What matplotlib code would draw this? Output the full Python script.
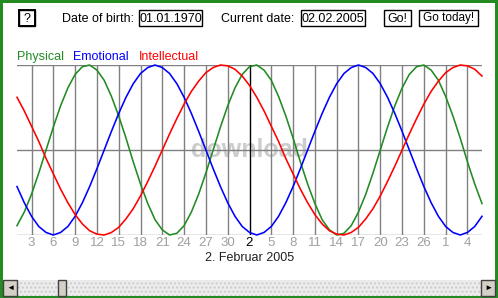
import matplotlib
matplotlib.use("Agg")
import matplotlib.pyplot as plt
from matplotlib.patches import Rectangle

plt.rcParams["font.family"] = ["Liberation Sans", "DejaVu Sans"]

W, H = 498, 298

# biorhythm values, one point per day from 1 Jan 2005 (day 0) to 6 Mar 2005 (day 64)
physical = [-0.89, -0.73, -0.52, -0.27, 0.00, 0.27, 0.52, 0.73, 0.89, 0.98, 1.00, 0.94,
            0.82, 0.63, 0.40, 0.14, -0.14, -0.40, -0.63, -0.82, -0.94, -1.00, -0.98,
            -0.89, -0.73, -0.52, -0.27, 0.00, 0.27, 0.52, 0.73, 0.89, 0.98, 1.00, 0.94,
            0.82, 0.63, 0.40, 0.14, -0.14, -0.40, -0.63, -0.82, -0.94, -1.00, -0.98,
            -0.89, -0.73, -0.52, -0.27, 0.00, 0.27, 0.52, 0.73, 0.89, 0.98, 1.00, 0.94,
            0.82, 0.63, 0.40, 0.14, -0.14, -0.40, -0.63]
emotional = [-0.43, -0.62, -0.78, -0.90, -0.97, -1.00, -0.97, -0.90, -0.78, -0.62, -0.43,
             -0.22, 0.00, 0.22, 0.43, 0.62, 0.78, 0.90, 0.97, 1.00, 0.97, 0.90, 0.78, 0.62,
             0.43, 0.22, 0.00, -0.22,
             -0.43, -0.62, -0.78, -0.90, -0.97, -1.00, -0.97, -0.90, -0.78, -0.62, -0.43,
             -0.22, 0.00, 0.22, 0.43, 0.62, 0.78, 0.90, 0.97, 1.00, 0.97, 0.90, 0.78, 0.62,
             0.43, 0.22, 0.00, -0.22,
             -0.43, -0.62, -0.78, -0.90, -0.97, -1.00, -0.97, -0.90, -0.78]
intellectual = [0.62, 0.46, 0.28, 0.10, -0.10, -0.28, -0.46, -0.62, -0.76, -0.87, -0.95,
                -0.99, -1.00, -0.97, -0.91, -0.81, -0.69, -0.54, -0.37, -0.19, 0.00, 0.19,
                0.37, 0.54, 0.69, 0.81, 0.91, 0.97, 1.00, 0.99, 0.95, 0.87, 0.76,
                0.62, 0.46, 0.28, 0.10, -0.10, -0.28, -0.46, -0.62, -0.76, -0.87, -0.95,
                -0.99, -1.00, -0.97, -0.91, -0.81, -0.69, -0.54, -0.37, -0.19, 0.00, 0.19,
                0.37, 0.54, 0.69, 0.81, 0.91, 0.97, 1.00, 0.99, 0.95, 0.87]

tick_days = [2, 5, 8, 11, 14, 17, 20, 23, 26, 29, 32, 35, 38, 41, 44, 47, 50, 53, 56, 59, 62]
tick_labels = ["3", "6", "9", "12", "15", "18", "21", "24", "27", "30", "2", "5", "8",
               "11", "14", "17", "20", "23", "26", "1", "4"]
current_day = 32
month_label = "2. Februar 2005"
birth_date = "01.01.1970"
current_date = "02.02.2005"

GREEN = "#228b22"
BLUE = "#0000ff"
RED = "#ff0000"
GRID = "#808080"

fig = plt.figure(figsize=(W / 100, H / 100), dpi=100)
fig.patch.set_facecolor("white")

# overlay in pixel coordinates for the window chrome
ov = fig.add_axes([0, 0, 1, 1])
ov.set_xlim(0, W)
ov.set_ylim(H, 0)
ov.axis("off")

# green frame
for r in [(0, 0, W, 3), (0, 0, 3, H), (495, 0, 3, H), (0, 296, W, 2)]:
    ov.add_patch(Rectangle(r[:2], r[2], r[3], color=GREEN, lw=0))

# top controls
def box(x0, x1, label, fs=9):
    ov.add_patch(Rectangle((x0, 10), x1 - x0, 16, fill=False, ec="black", lw=1))
    ov.text((x0 + x1) / 2, 18.5, label, ha="center", va="center", fontsize=fs)

box(19, 35, "?", 9)
ov.add_patch(Rectangle((19, 10), 16, 16, fill=False, ec="black", lw=1.4))
ov.text(62, 18.5, "Date of birth:", ha="left", va="center", fontsize=9)
box(139, 202, birth_date)
ov.text(221, 18.5, "Current date:", ha="left", va="center", fontsize=9)
box(301, 365, current_date)
box(384, 411, "Go!")
box(419, 478, "Go today!", 8.5)

# legend
ov.text(17, 57, "Physical", color=GREEN, fontsize=9, va="center")
ov.text(73, 57, "Emotional", color=BLUE, fontsize=9, va="center")
ov.text(139, 57, "Intellectual", color=RED, fontsize=9, va="center")

# scrollbar
ov.add_patch(Rectangle((3, 280), 492, 16, fc="#ececec", lw=0, hatch="....",
                       ec="#cccccc"))
for x0, x1 in [(3, 17), (481, 495), (58, 66)]:
    ov.add_patch(Rectangle((x0, 280), x1 - x0, 16, fc="#d4d0c8", ec="#404040", lw=1))
ov.text(10, 288, "\u25c4", fontsize=6, ha="center", va="center")
ov.text(488, 288, "\u25ba", fontsize=6, ha="center", va="center")

# watermark
ov.text(250, 150, "download", fontsize=18, fontweight="bold", color="#909090",
        alpha=0.45, ha="center", va="center")

# chart area
ax = fig.add_axes([17 / W, 1 - 235 / H, 465 / W, 170 / H])
ax.set_xlim(0, 64)
ax.set_ylim(-1, 1)
ax.axis("off")

for y in [-1, 0, 1]:
    ax.axhline(y, color=GRID, lw=1, zorder=1)
for d in tick_days:
    ax.axvline(d, color="black" if d == current_day else GRID, lw=1, zorder=1)

days = list(range(len(physical)))
ax.plot(days, physical, color=GREEN, lw=1.15, zorder=3, clip_on=False)
ax.plot(days, emotional, color=BLUE, lw=1.15, zorder=3, clip_on=False)
ax.plot(days, intellectual, color=RED, lw=1.15, zorder=3, clip_on=False)

for d, lab in zip(tick_days, tick_labels):
    ax.text(d, -1.1, lab, ha="center", va="center", fontsize=9.5,
            color="black" if d == current_day else "#a0a0a0")
ax.text(current_day, -1.27, month_label, ha="center", va="center", fontsize=9,
        color="#202020")

fig.savefig("out.png", dpi=100)
